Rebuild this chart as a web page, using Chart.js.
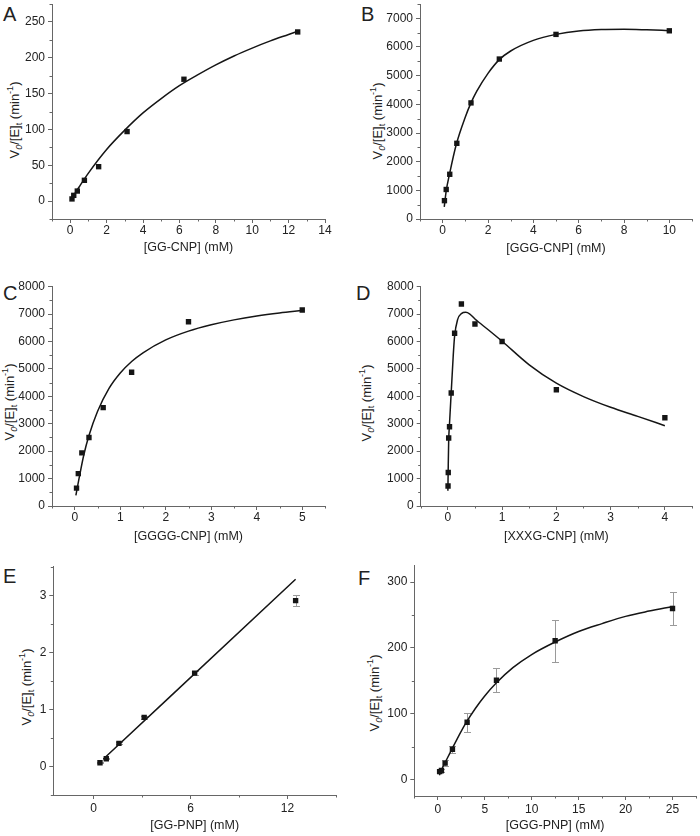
<!DOCTYPE html>
<html>
<head>
<meta charset="utf-8">
<script src="https://cdn.jsdelivr.net/npm/chart.js@4.4.0/dist/chart.umd.min.js"></script>
<style>
  body { margin: 0; background: #fff; }
  #fig { position: relative; width: 700px; height: 836px; font-family: "Liberation Sans", Arial, sans-serif; color: #222; overflow: hidden; }
  #fig canvas { position: absolute; }
  .lbl { position: absolute; font-size: 20px; line-height: 20px; }
  .yt { position: absolute; font-size: 13px; line-height: 15px; white-space: nowrap; transform: translate(-50%, -50%) rotate(-90deg); }
  .yt sub, .yt sup { font-size: 9px; line-height: 0; }
</style>
</head>
<body>
<div id="fig">
  <div class="lbl" style="left:3px;top:4px">A</div>
  <div class="lbl" style="left:361px;top:4px">B</div>
  <div class="lbl" style="left:3px;top:283px">C</div>
  <div class="lbl" style="left:356px;top:283px">D</div>
  <div class="lbl" style="left:3px;top:566px">E</div>
  <div class="lbl" style="left:358px;top:568px">F</div>
  <div class="yt" style="left:14px;top:120px">V<sub><i>0</i></sub>/[E]<sub>t</sub> (min<sup>-1</sup>)</div>
  <div class="yt" style="left:377px;top:121px">V<sub><i>0</i></sub>/[E]<sub>t</sub> (min<sup>-1</sup>)</div>
  <div class="yt" style="left:9px;top:402px">V<sub><i>0</i></sub>/[E]<sub>t</sub> (min<sup>-1</sup>)</div>
  <div class="yt" style="left:366px;top:403px">V<sub><i>0</i></sub>/[E]<sub>t</sub> (min<sup>-1</sup>)</div>
  <div class="yt" style="left:26px;top:687px">V<sub><i>0</i></sub>/[E]<sub>t</sub> (min<sup>-1</sup>)</div>
  <div class="yt" style="left:374px;top:693px">V<sub><i>0</i></sub>/[E]<sub>t</sub> (min<sup>-1</sup>)</div>
</div>
<script>
// A: GG-CNP
const aConc = [0.098, 0.195, 0.39, 0.78, 1.5625, 3.125, 6.25, 12.5];
const aRate = [3, 8, 14, 29, 48, 97, 170, 236];
const aFitX = [0.05, 0.5, 1, 2, 3, 4, 5, 6, 7, 8, 9, 10, 11, 12, 12.5];
const aFitY = [2, 20, 39, 72, 99, 123, 143, 161, 176, 190, 202.5, 213.5, 223.5, 232.5, 237];

// B: GGG-CNP
const bConc = [0.078, 0.156, 0.3125, 0.625, 1.25, 2.5, 5, 10];
const bRate = [640, 1030, 1560, 2640, 4050, 5580, 6440, 6565];
const bFitX = [0.07, 0.156, 0.3, 0.6, 1, 1.25, 1.5, 2, 2.5, 3, 4, 5, 6, 7, 8, 9, 10];
const bFitY = [420, 980, 1560, 2600, 3560, 4050, 4450, 5080, 5560, 5860, 6230, 6440, 6560, 6610, 6620, 6600, 6570];

// C: GGGG-CNP
const cConc = [0.039, 0.078, 0.156, 0.3125, 0.625, 1.25, 2.5, 5];
const cRate = [650, 1180, 1940, 2500, 3590, 4880, 6720, 7150];
const cFitX = [0.025, 0.1, 0.2, 0.3125, 0.5, 0.75, 1, 1.25, 1.5, 2, 2.5, 3, 3.5, 4, 4.5, 5];
const cFitY = [390, 1050, 1870, 2570, 3450, 4280, 4850, 5270, 5590, 6060, 6380, 6610, 6790, 6930, 7040, 7130];

// D: XXXG-CNP
const dConc = [0.0039, 0.0078, 0.0156, 0.03125, 0.0625, 0.125, 0.25, 0.5, 1, 2, 4];
const dRate = [730, 1220, 2480, 2890, 4120, 6300, 7370, 6640, 6000, 4240, 3220];
const dFitX = [0.001, 0.008, 0.016, 0.031, 0.0625, 0.1, 0.125, 0.18, 0.25, 0.33, 0.4, 0.5, 0.75, 1, 1.5, 2, 2.5, 3, 3.5, 4];
const dFitY = [560, 1500, 2400, 3000, 4150, 5500, 6200, 6800, 7020, 7065, 7010, 6820, 6420, 6010, 5150, 4480, 3990, 3600, 3270, 2930];

// E: GG-PNP
const eConc = [0.39, 0.78, 1.5625, 3.125, 6.25, 12.5];
const eRate = [0.065, 0.135, 0.405, 0.86, 1.635, 2.905];
const eErr = [0.01, 0.01, 0.015, 0.02, 0.03, 0.1];
const eFitX = [0.6, 12.5];
const eFitY = [0.13, 3.28];

// F: GGG-PNP
const fConc = [0.195, 0.39, 0.78, 1.5625, 3.125, 6.25, 12.5, 25];
const fRate = [12, 14, 25, 46, 87, 151, 211, 260];
const fErr = [2, 2, 4, 5, 14, 18, 32, 25];
const fFitX = [0.17, 0.5, 1, 1.5, 2, 3, 4, 5, 6.25, 8, 10, 12.5, 15, 17.5, 20, 22.5, 25];
const fFitY = [6.5, 18, 32, 46, 60, 86, 108, 127, 147, 170, 190, 209, 225, 237, 248, 256, 263];

// axis ranges: [min, max, major step, minor step]
const aXAxis = [-1, 14, 2, 1],      aYAxis = [-25, 275, 50, 25];
const bXAxis = [-1, 11, 2, 1],      bYAxis = [0, 7500, 1000, 500];
const cXAxis = [-0.5, 5.5, 1, 0.5], cYAxis = [0, 8000, 1000, 500];
const dXAxis = [-0.5, 4.5, 1, 0.5], dYAxis = [0, 8000, 1000, 500];
const eXAxis = [-2.5, 15, 6, 3],    eYAxis = [-0.5, 3.5, 1, 0.5];
const fXAxis = [-2.5, 27.5, 5, 2.5], fYAxis = [-25, 325, 100, 50];

const FONT = '"Liberation Sans", Arial, sans-serif';
const INK = '#151515';
const AXIS = '#666';
const TXT = '#222';

function stepsIn(min, max, step) {
  const out = [];
  for (let k = Math.ceil(min / step - 1e-9); k * step <= max + 1e-9; k++) out.push(+(k * step).toFixed(6));
  return out;
}
function minorsIn(spec) {
  const major = stepsIn(spec[0], spec[1], spec[2]);
  return stepsIn(spec[0], spec[1], spec[3]).filter(v => !major.some(m => Math.abs(m - v) < 1e-9));
}
const pts = (xs, ys) => xs.map((x, i) => ({ x: x, y: ys[i] }));

const minorTicks = {
  id: 'minorTicks',
  afterDraw(chart, args, opts) {
    const { ctx, chartArea } = chart;
    const xs = chart.scales.x, ys = chart.scales.y;
    ctx.save();
    ctx.strokeStyle = AXIS;
    ctx.lineWidth = 1;
    ctx.beginPath();
    (opts.x || []).forEach(v => {
      const p = Math.round(xs.getPixelForValue(v)) + 0.5;
      ctx.moveTo(p, chartArea.bottom);
      ctx.lineTo(p, chartArea.bottom + 2.5);
    });
    (opts.y || []).forEach(v => {
      const p = Math.round(ys.getPixelForValue(v)) + 0.5;
      ctx.moveTo(chartArea.left, p);
      ctx.lineTo(chartArea.left - 2.5, p);
    });
    ctx.stroke();
    ctx.restore();
  }
};

const errorBars = {
  id: 'errorBars',
  beforeDatasetsDraw(chart, args, opts) {
    if (!opts.err) return;
    const { ctx } = chart;
    const xs = chart.scales.x, ys = chart.scales.y;
    ctx.save();
    ctx.strokeStyle = '#9a9a9a';
    ctx.lineWidth = 1;
    ctx.beginPath();
    opts.x.forEach((xv, i) => {
      const px = Math.round(xs.getPixelForValue(xv)) + 0.5;
      const y1 = Math.round(ys.getPixelForValue(opts.y[i] - opts.err[i])) + 0.5;
      const y2 = Math.round(ys.getPixelForValue(opts.y[i] + opts.err[i])) + 0.5;
      ctx.moveTo(px, y1); ctx.lineTo(px, y2);
      ctx.moveTo(px - 3.5, y1); ctx.lineTo(px + 3.5, y1);
      ctx.moveTo(px - 3.5, y2); ctx.lineTo(px + 3.5, y2);
    });
    ctx.stroke();
    ctx.restore();
  }
};

function axisOpts(horiz, spec, size, title, tickPad, titlePad) {
  return {
    type: 'linear',
    min: spec[0],
    max: spec[1],
    afterBuildTicks: s => { s.ticks = stepsIn(spec[0], spec[1], spec[2]).map(v => ({ value: v })); },
    afterFit: s => {
      if (horiz) s.height = size; else s.width = size;
      s.paddingLeft = s.paddingRight = s.paddingTop = s.paddingBottom = 0;
    },
    border: { color: AXIS, width: 1 },
    grid: { drawOnChartArea: false, drawTicks: true, tickLength: 4, tickColor: AXIS, tickWidth: 1 },
    ticks: {
      color: TXT, font: { family: FONT, size: 12 }, padding: tickPad,
      maxRotation: 0, autoSkip: false, callback: v => String(v)
    },
    title: horiz
      ? { display: true, text: title, color: TXT, font: { family: FONT, size: 12.5 }, padding: { top: 0, bottom: titlePad } }
      : { display: false }
  };
}

function makePanel(p) {
  const cv = document.createElement('canvas');
  cv.width = p.w; cv.height = p.h;
  cv.style.left = p.left + 'px';
  cv.style.top = p.top + 'px';
  document.getElementById('fig').appendChild(cv);
  const [L, R, T, B] = p.area;
  new Chart(cv, {
    type: 'scatter',
    data: {
      datasets: [
        { data: pts(p.cx, p.cy), pointStyle: 'rect', pointRadius: 3.8, backgroundColor: INK, borderWidth: 0, showLine: false },
        { data: pts(p.fx, p.fy), showLine: true, pointRadius: 0, borderColor: INK, borderWidth: 1.5, cubicInterpolationMode: 'monotone', fill: false }
      ]
    },
    options: {
      responsive: false,
      animation: false,
      devicePixelRatio: 1,
      layout: { padding: { left: 0, top: T, right: p.w - R, bottom: 0 } },
      plugins: {
        legend: { display: false },
        tooltip: { enabled: false },
        minorTicks: { x: minorsIn(p.xAxis), y: minorsIn(p.yAxis) },
        errorBars: p.err ? { x: p.cx, y: p.cy, err: p.err } : {}
      },
      scales: {
        x: axisOpts(true, p.xAxis, p.h - B, p.title, p.tickPad, p.titlePad),
        y: axisOpts(false, p.yAxis, L, '', 3, 0)
      }
    },
    plugins: [minorTicks, errorBars]
  });
}

makePanel({ left: 0, top: 0, w: 350, h: 262, area: [52, 325, 0, 219], cx: aConc, cy: aRate, fx: aFitX, fy: aFitY,
  xAxis: aXAxis, yAxis: aYAxis, title: '[GG-CNP] (mM)', tickPad: 0.5, titlePad: 6.5 });
makePanel({ left: 350, top: 0, w: 350, h: 262, area: [70, 342, 0, 219], cx: bConc, cy: bRate, fx: bFitX, fy: bFitY,
  xAxis: bXAxis, yAxis: bYAxis, title: '[GGG-CNP] (mM)', tickPad: 0.5, titlePad: 5.5 });
makePanel({ left: 0, top: 270, w: 350, h: 280, area: [52, 325, 16.7, 236], cx: cConc, cy: cRate, fx: cFitX, fy: cFitY,
  xAxis: cXAxis, yAxis: cYAxis, title: '[GGGG-CNP] (mM)', tickPad: 0.5, titlePad: 5.8 });
makePanel({ left: 350, top: 270, w: 350, h: 280, area: [70.7, 342, 16.7, 236], cx: dConc, cy: dRate, fx: dFitX, fy: dFitY,
  xAxis: dXAxis, yAxis: dYAxis, title: '[XXXG-CNP] (mM)', tickPad: 0.5, titlePad: 5.8 });
makePanel({ left: 0, top: 550, w: 350, h: 286, area: [53.3, 336, 16.7, 245], cx: eConc, cy: eRate, fx: eFitX, fy: eFitY, err: eErr,
  xAxis: eXAxis, yAxis: eYAxis, title: '[GG-PNP] (mM)', tickPad: 2.7, titlePad: 2.5 });
makePanel({ left: 350, top: 550, w: 350, h: 286, area: [64.3, 350, 15.7, 246], cx: fConc, cy: fRate, fx: fFitX, fy: fFitY, err: fErr,
  xAxis: fXAxis, yAxis: fYAxis, title: '[GGG-PNP] (mM)', tickPad: 2.7, titlePad: 2.5 });
</script>
</body>
</html>
